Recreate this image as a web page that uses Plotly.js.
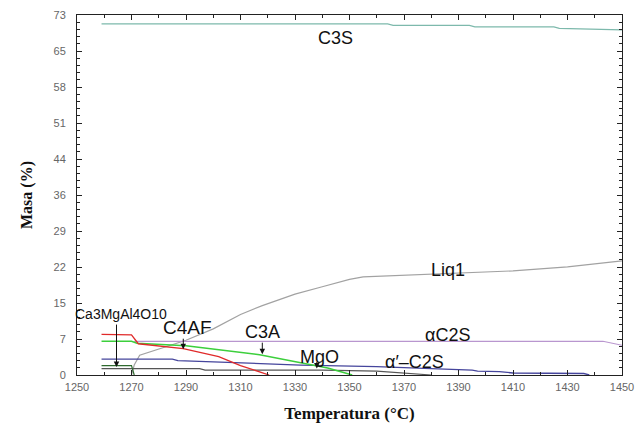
<!DOCTYPE html>
<html>
<head>
<meta charset="utf-8">
<script src="https://cdn.plot.ly/plotly-3.0.1.min.js"></script>
<style>html,body{margin:0;padding:0;background:#fff;}#chart{width:637px;height:426px;}</style>
</head>
<body>
<div id="chart"></div>
<script>
// ---- data ----
const xTickVals = [1250, 1270, 1290, 1310, 1330, 1350, 1370, 1390, 1410, 1430, 1450];
const yMax = 72.6;
const yTickText = ["0", "7", "15", "22", "29", "36", "44", "51", "58", "65", "73"];

const tC3S = [1259, 1364, 1366, 1394, 1396, 1425, 1427, 1450];
const mC3S = [70.8, 70.8, 70.5, 70.5, 70.2, 70.2, 69.9, 69.6];

const tLiq1 = [1270, 1271, 1273, 1280, 1290, 1300, 1310, 1318, 1322, 1330, 1340, 1350, 1355, 1370, 1390, 1410, 1430, 1450];
const mLiq1 = [0, 2, 4, 5.3, 7.0, 9.3, 12.2, 14.0, 14.8, 16.3, 17.8, 19.3, 19.8, 20.1, 20.5, 21.0, 21.8, 23.0];

const tAC2S = [1271, 1300, 1350, 1400, 1443, 1450];
const mAC2S = [6.8, 6.8, 6.8, 6.8, 6.8, 6.0];

const tC3A = [1259, 1270, 1272, 1290, 1317, 1332, 1342, 1351];
const mC3A = [6.8, 6.8, 6.4, 5.9, 4.1, 2.4, 1.4, 0];

const tC4AF = [1259, 1270, 1272.5, 1289, 1302, 1310, 1320.5];
const mC4AF = [8.2, 8.1, 6.3, 5.3, 3.7, 1.9, 0];

const tAPC2S = [1259, 1285, 1287, 1310, 1332, 1360, 1385, 1395, 1397, 1405, 1410, 1436, 1438];
const mAPC2S = [3.2, 3.2, 2.9, 2.5, 2.0, 1.7, 1.2, 1.0, 0.8, 0.7, 0.4, 0.3, 0];

const tMgO = [1259, 1295, 1297, 1340, 1360, 1380];
const mMgO = [1.3, 1.3, 1.0, 1.0, 0.8, 0];

const tCa3 = [1259, 1270, 1271];
const mCa3 = [1.9, 1.9, 0];

// phase labels
const labelText = ["C3S", "Liq1", "\u03b1C2S", "\u03b1\u2032\u2013C2S", "MgO", "C3A", "C4AF", "Ca3MgAl4O10"];
const labelX = [1345, 1386, 1386, 1374, 1339, 1318, 1290.5, 1266];
const labelY = [68.0, 21.2, 8.1, 2.6, 3.6, 8.7, 9.6, 12.3];
const labelSize = [18, 18, 18, 18, 18, 18, 19, 14];

// arrows: tip positions
const arrowX = [1264.5, 1289, 1318, 1338];
const arrowY = [1.6, 5.2, 4.2, 1.3];
const arrowLen = [44, 12, 13, 8];

function line(x, y, color, width) {
  return {x: x, y: y, type: 'scatter', mode: 'lines', line: {color: color, width: width || 1}, hoverinfo: 'skip', showlegend: false};
}

const data = [
  line(tC3S, mC3S, '#7db9ac', 1.2),
  line(tLiq1, mLiq1, '#a2a2a2', 1.2),
  line(tAC2S, mAC2S, '#b996cf', 1.2),
  line(tMgO, mMgO, '#555555', 1.2),
  line(tCa3, mCa3, '#2f6b2f', 1.2),
  line(tAPC2S, mAPC2S, '#45459c', 1.3),
  line(tC3A, mC3A, '#3ccf3c', 1.5),
  line(tC4AF, mC4AF, '#e02a2a', 1.3)
];

const annotations = [];
for (let i = 0; i < labelText.length; i++) {
  annotations.push({x: labelX[i], y: labelY[i], xref: 'x', yref: 'y', text: labelText[i], showarrow: false,
    font: {family: 'Liberation Sans, Arial, sans-serif', size: labelSize[i], color: '#111'}});
}
for (let i = 0; i < arrowX.length; i++) {
  annotations.push({x: arrowX[i], y: arrowY[i], xref: 'x', yref: 'y', text: '', showarrow: true,
    ax: 0, ay: -arrowLen[i], arrowhead: 2, arrowsize: 1.1, arrowwidth: 1, arrowcolor: '#111'});
}

const yTickVals = yTickText.map((_, i) => i * yMax / 10);

const layout = {
  width: 637, height: 426,
  margin: {l: 77, r: 15, t: 15, b: 51},
  paper_bgcolor: '#fff', plot_bgcolor: '#fff',
  xaxis: {
    range: [1250, 1450], tickmode: 'array', tickvals: xTickVals, ticktext: xTickVals.map(String),
    ticks: 'inside', ticklen: 5, tickcolor: '#222', mirror: 'allticks',
    showline: true, linecolor: '#222', linewidth: 1, showgrid: false, zeroline: false,
    minor: {tickmode: 'linear', tick0: 1250, dtick: 10, ticks: 'inside', ticklen: 3, tickcolor: '#222', showgrid: false},
    tickfont: {family: 'Liberation Sans, Arial, sans-serif', size: 11, color: '#666'},
    ticklabelstandoff: 2,
    title: {text: 'Temperatura (\u00b0C)', standoff: 14, font: {family: 'Liberation Serif, Times New Roman, serif', size: 17, color: '#111', weight: 'bold'}}
  },
  yaxis: {
    range: [0, yMax], tickmode: 'array', tickvals: yTickVals, ticktext: yTickText,
    ticks: 'inside', ticklen: 5, tickcolor: '#222', mirror: 'allticks',
    showline: true, linecolor: '#222', linewidth: 1, showgrid: false, zeroline: false,
    minor: {tickmode: 'linear', tick0: 0, dtick: yMax / 50, ticks: 'inside', ticklen: 3, tickcolor: '#222', showgrid: false},
    tickfont: {family: 'Liberation Sans, Arial, sans-serif', size: 11, color: '#666'},
    ticklabelstandoff: 8,
    title: {text: 'Masa (%)', standoff: 16, font: {family: 'Liberation Serif, Times New Roman, serif', size: 16, color: '#111', weight: 'bold'}}
  },
  annotations: annotations,
  showlegend: false
};

Plotly.newPlot('chart', data, layout, {staticPlot: true, displayModeBar: false});
</script>
</body>
</html>
